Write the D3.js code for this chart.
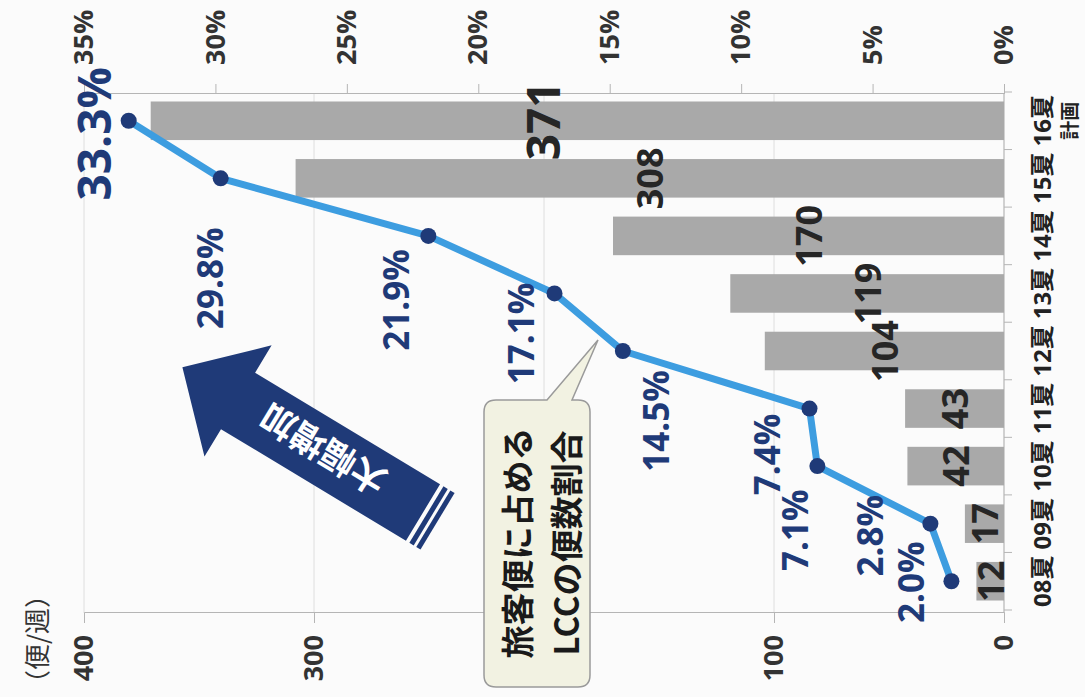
<!DOCTYPE html>
<html>
<head>
<meta charset="utf-8">
<script src="https://cdn.jsdelivr.net/npm/d3@7/dist/d3.min.js"></script>
<style>
    body { margin: 0; background: #fbfbfb; }
    svg { display: block; font-family: "Open Sans", "Noto Sans CJK JP", sans-serif; }
</style>
</head>
<body>
<svg id="chart"></svg>
<script>
// data
const categories = ['08夏', '09夏', '10夏', '11夏', '12夏', '13夏', '14夏', '15夏', '16夏'];
const categoryNotes = ['', '', '', '', '', '', '', '', '計画'];
const flights = [12, 17, 42, 43, 104, 119, 170, 308, 371];          // 便/週
const lccShare = [0.020, 0.028, 0.071, 0.074, 0.145, 0.171, 0.219, 0.298, 0.333];
const flightTicks = [0, 100, 200, 300, 400];
const shareTicks = [0, 0.05, 0.10, 0.15, 0.20, 0.25, 0.30, 0.35];

const W = 1085, H = 697;
const navy = '#1f3a78';

const svg = d3.select('#chart')
    .attr('width', W)
    .attr('height', H);

svg.append('rect')
    .attr('width', W)
    .attr('height', H)
    .attr('fill', '#fbfbfb');

// the slide is scanned sideways: draw the chart upright in a 697 x 1085 frame, then turn it
const chart = svg.append('g')
    .attr('transform', `translate(0,${H}) rotate(-90)`);

const plotLeft = 84, plotRight = 603, plotTop = 84, plotBase = 1004;

const xScale = d3.scaleBand()
    .domain(categories)
    .range([87, 605])
    .paddingInner(0.33)
    .paddingOuter(0.165);

const yScale = d3.scaleLinear().domain([0, 400]).range([plotBase, plotTop]);
const y2Scale = d3.scaleLinear().domain([0, 0.35]).range([plotBase, plotTop]);

const cx = i => xScale(categories[i]) + xScale.bandwidth() / 2;

// gridlines
chart.append('g')
    .selectAll('line')
    .data(flightTicks)
    .join('line')
    .attr('x1', plotLeft)
    .attr('x2', plotRight)
    .attr('y1', d => yScale(d))
    .attr('y2', d => yScale(d))
    .attr('stroke', '#dedede')
    .attr('stroke-width', 1);

// axes
const yAxisG = chart.append('g')
    .attr('transform', `translate(${plotLeft},0)`)
    .call(d3.axisLeft(yScale).tickValues(flightTicks).tickSize(10).tickPadding(12));

const y2AxisG = chart.append('g')
    .attr('transform', `translate(${plotRight},0)`)
    .call(d3.axisRight(y2Scale).tickValues(shareTicks).tickFormat(d3.format('.0%')).tickSize(10).tickPadding(19));

[yAxisG, y2AxisG].forEach(a => {
    a.select('.domain').attr('stroke', '#b5b5b5');
    a.selectAll('.tick line').attr('stroke', '#b5b5b5');
    a.selectAll('.tick text')
        .attr('fill', '#333')
        .attr('font-size', 27)
        .attr('font-weight', 'bold')
        .attr('font-family', '"Open Sans", sans-serif');
});

// category axis: line with ticks between bands
const step = xScale.step();
const x0 = xScale(categories[0]) - xScale.paddingInner() * step / 2;
chart.append('line')
    .attr('x1', plotLeft).attr('x2', plotRight)
    .attr('y1', plotBase).attr('y2', plotBase)
    .attr('stroke', '#b5b5b5');

chart.append('g')
    .selectAll('line')
    .data(d3.range(categories.length + 1))
    .join('line')
    .attr('x1', i => x0 + i * step)
    .attr('x2', i => x0 + i * step)
    .attr('y1', plotBase)
    .attr('y2', plotBase + 8)
    .attr('stroke', '#b5b5b5');

chart.append('g')
    .selectAll('text')
    .data(categories)
    .join('text')
    .attr('x', d => xScale(d) + xScale.bandwidth() / 2)
    .attr('y', 1041)
    .attr('text-anchor', 'middle')
    .attr('dominant-baseline', 'central')
    .attr('font-size', 24)
    .attr('font-weight', 'bold')
    .attr('fill', '#222')
    .text(d => d);

chart.append('g')
    .selectAll('text')
    .data(categoryNotes)
    .join('text')
    .attr('x', (d, i) => cx(i))
    .attr('y', 1068)
    .attr('text-anchor', 'middle')
    .attr('dominant-baseline', 'central')
    .attr('font-size', 19)
    .attr('font-weight', 'bold')
    .attr('fill', '#222')
    .attr('font-family', '"Noto Sans CJK JP", sans-serif')
    .text(d => d);

// unit label
chart.append('text')
    .attr('x', 58)
    .attr('y', 35)
    .attr('text-anchor', 'middle')
    .attr('dominant-baseline', 'central')
    .attr('font-size', 26)
    .attr('fill', '#333')
    .attr('font-family', '"Noto Sans CJK JP", sans-serif')
    .text('（便/週）');

// bars
chart.append('g')
    .selectAll('rect')
    .data(flights)
    .join('rect')
    .attr('x', (d, i) => xScale(categories[i]))
    .attr('y', d => yScale(d))
    .attr('width', xScale.bandwidth())
    .attr('height', d => yScale(0) - yScale(d))
    .attr('fill', '#a9a9a9');

// bar labels sit in the middle of each bar (the plan figure is pulled up a little)
const last = flights.length - 1;
chart.append('g')
    .selectAll('text')
    .data(flights)
    .join('text')
    .attr('x', (d, i) => cx(i))
    .attr('y', (d, i) => (yScale(d) + yScale(0)) / 2 - (i === last ? 35 : 0))
    .attr('text-anchor', 'middle')
    .attr('dominant-baseline', 'central')
    .attr('font-size', (d, i) => i === last ? 46 : 36)
    .attr('font-weight', 'bold')
    .attr('fill', '#262626')
    .text(d => d);

// speech bubble
const b = { x0: 10, x1: 297, y0: 484, y1: 590, r: 12 };
const bubblePath = `M${b.x0 + b.r},${b.y0} L${b.x1 - b.r},${b.y0} Q${b.x1},${b.y0} ${b.x1},${b.y0 + b.r}
    L${b.x1},547 L357,598 L${b.x1},572
    L${b.x1},${b.y1 - b.r} Q${b.x1},${b.y1} ${b.x1 - b.r},${b.y1}
    L${b.x0 + b.r},${b.y1} Q${b.x0},${b.y1} ${b.x0},${b.y1 - b.r}
    L${b.x0},${b.y0 + b.r} Q${b.x0},${b.y0} ${b.x0 + b.r},${b.y0} Z`;
chart.append('path')
    .attr('d', bubblePath)
    .attr('fill', '#f2f2e2')
    .attr('stroke', '#9a9a9a')
    .attr('stroke-width', 1.5);

chart.append('g')
    .selectAll('text')
    .data(['旅客便に占める', 'LCCの便数割合'])
    .join('text')
    .attr('x', 154)
    .attr('y', (d, i) => 516 + i * 49)
    .attr('text-anchor', 'middle')
    .attr('dominant-baseline', 'central')
    .attr('font-size', 33)
    .attr('font-weight', 'bold')
    .attr('fill', '#1a1a1a')
    .attr('font-family', '"Noto Sans CJK JP", sans-serif')
    .text(d => d);

// big arrow
const arrow = chart.append('g')
    .attr('transform', 'translate(184.5,423) rotate(-58.9)');
arrow.append('path')
    .attr('d', 'M0,-33 L216,-33 L216,-65 L281,0 L216,65 L216,33 L0,33 Z')
    .attr('fill', navy);
arrow.selectAll('rect')
    .data([-9, -17])
    .join('rect')
    .attr('x', d => d)
    .attr('y', -33)
    .attr('width', 5)
    .attr('height', 66)
    .attr('fill', navy);
arrow.append('text')
    .attr('x', 118)
    .attr('y', 0)
    .attr('text-anchor', 'middle')
    .attr('dominant-baseline', 'central')
    .attr('font-size', 35)
    .attr('font-weight', 'bold')
    .attr('fill', '#fff')
    .attr('font-family', '"Noto Sans CJK JP", sans-serif')
    .text('大幅増加');

// share line
const line = d3.line()
    .x((d, i) => cx(i))
    .y(d => y2Scale(d));

chart.append('path')
    .datum(lccShare)
    .attr('d', line)
    .attr('fill', 'none')
    .attr('stroke', '#3d9de0')
    .attr('stroke-width', 7)
    .attr('stroke-linejoin', 'round');

chart.append('g')
    .selectAll('circle')
    .data(lccShare)
    .join('circle')
    .attr('cx', (d, i) => cx(i))
    .attr('cy', d => y2Scale(d))
    .attr('r', 8)
    .attr('fill', navy);

// hand-placed label offsets as on the slide (du, dv from each point)
const pctNudge = [[-1, -41], [-12, -61], [-64, -23], [-46, -43], [-70, 33], [-40, -34], [-64, -33], [-100, -11], [-13, -36]];
chart.append('g')
    .selectAll('text')
    .data(lccShare)
    .join('text')
    .attr('x', (d, i) => cx(i) + pctNudge[i][0])
    .attr('y', (d, i) => y2Scale(d) + pctNudge[i][1])
    .attr('text-anchor', 'middle')
    .attr('dominant-baseline', 'central')
    .attr('font-size', (d, i) => i === last ? 46 : 35)
    .attr('font-weight', 'bold')
    .attr('fill', navy)
    .text(d => d3.format('.1%')(d));
</script>
</body>
</html>
